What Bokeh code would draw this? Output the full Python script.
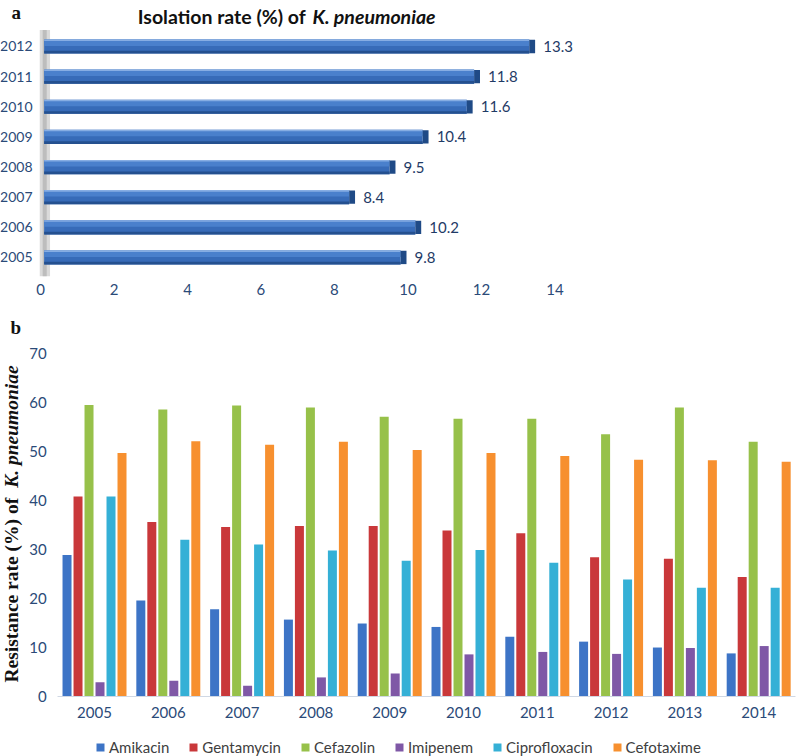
import math
from bokeh.plotting import figure
from bokeh.models import Range1d, FixedTicker, Label, Legend, LegendItem, ColumnDataSource
from bokeh.layouts import column
from bokeh.transform import dodge
from bokeh.core.properties import value
from bokeh.embed import file_html
from bokeh.resources import INLINE

# ---------------- data ----------------
iso_years = ["2005", "2006", "2007", "2008", "2009", "2010", "2011", "2012"]
iso_rate = [9.8, 10.2, 8.4, 9.5, 10.4, 11.6, 11.8, 13.3]
iso_ticks = [0, 2, 4, 6, 8, 10, 12, 14]

res_years = ["2005", "2006", "2007", "2008", "2009", "2010", "2011", "2012", "2013", "2014"]
drugs = ["Amikacin", "Gentamycin", "Cefazolin", "Imipenem", "Ciprofloxacin", "Cefotaxime"]
amikacin = [28.9, 19.6, 17.8, 15.7, 14.9, 14.2, 12.2, 11.2, 10.0, 8.8]
gentamycin = [40.8, 35.6, 34.6, 34.8, 34.8, 33.9, 33.3, 28.4, 28.1, 24.4]
cefazolin = [59.5, 58.6, 59.4, 59.0, 57.1, 56.7, 56.7, 53.5, 59.0, 52.0]
imipenem = [2.9, 3.2, 2.2, 3.9, 4.7, 8.6, 9.1, 8.7, 9.9, 10.3]
ciprofloxacin = [40.8, 32.0, 31.0, 29.8, 27.7, 29.9, 27.3, 23.9, 22.2, 22.2]
cefotaxime = [49.7, 52.1, 51.4, 52.0, 50.3, 49.7, 49.1, 48.3, 48.2, 47.9]
res_ticks = [0, 10, 20, 30, 40, 50, 60, 70]

drug_colors = ["#3D74C6", "#C9383A", "#97C14A", "#7F58A6", "#35B0D6", "#F7902F"]

TICK_COLOR = "#2B4A78"
FONT = "Lato"
W = 797

# ---------------- panel a ----------------
ya = list(range(len(iso_years)))
src_a = ColumnDataSource(dict(y=ya, v=iso_rate, lab=[f"{v:.1f}" for v in iso_rate]))

p1 = figure(width=W, height=300, x_range=Range1d(-1.088, 20.6), y_range=Range1d(-1.427, 8.526),
            output_backend="svg", toolbar_location=None, min_border=0)
p1.outline_line_color = None
p1.grid.visible = False

# left 3-D wall
p1.quad(left=-0.02, right=0.26, bottom=-0.62, top=7.55, fill_color="#DADADA", line_color=None)
p1.quad(left=0.06, right=0.17, bottom=-0.62, top=7.55, fill_color="#B0B0B0", line_color=None, alpha=0.7)

# bars with simple 3-D shading
p1.hbar(y="y", right="v", left=0.1, height=0.47, source=src_a, fill_color="#376BB8", line_color=None)
p1.hbar(y=dodge("y", 0.12, range=p1.y_range), right="v", left=0.1, height=0.2, source=src_a,
        fill_color="#4A80CC", line_color=None)
p1.hbar(y=dodge("y", 0.21, range=p1.y_range), right="v", left=0.1, height=0.05, source=src_a,
        fill_color="#86ADE3", line_color=None)
p1.hbar(y=dodge("y", -0.19, range=p1.y_range), right="v", left=0.1, height=0.09, source=src_a,
        fill_color="#24508F", line_color=None)
p1.hbar(y="y", left="v", right=dodge("v", 0.16, range=p1.x_range), height=0.44, source=src_a,
        fill_color="#1F4A86", line_color=None)
p1.text(x="v", y="y", text="lab", source=src_a, x_offset=14, text_baseline="middle",
        text_font=value(FONT), text_font_size="15px", text_color="#1F3B66")

p1.xaxis.ticker = FixedTicker(ticks=iso_ticks)
p1.xaxis.fixed_location = -0.6
p1.yaxis.ticker = FixedTicker(ticks=ya)
p1.yaxis.fixed_location = 0
p1.yaxis.major_label_overrides = {i: y for i, y in enumerate(iso_years)}
for ax in (p1.xaxis[0], p1.yaxis[0]):
    ax.axis_line_color = None
    ax.major_tick_line_color = None
    ax.minor_tick_line_color = None
    ax.major_label_text_font = FONT
    ax.major_label_text_color = TICK_COLOR
p1.xaxis.major_label_text_font_size = "15px"
p1.yaxis.major_label_text_font_size = "14px"
p1.xaxis.major_label_standoff = 2
p1.yaxis.major_label_standoff = 2

p1.add_layout(Label(x=-0.79, y=8.13, text="a", text_font="Liberation Serif", text_font_style="bold",
                    text_font_size="19px", text_baseline="middle", text_color="#111111"))
p1.add_layout(Label(x=7.22, y=7.98, text="Isolation rate (%) of", text_align="right",
                    text_font=FONT, text_font_style="bold", text_font_size="19.5px",
                    text_baseline="middle", text_color="#111111"))
p1.add_layout(Label(x=7.40, y=7.98, text="K. pneumoniae", text_align="left",
                    text_font=FONT, text_font_style="bold italic", text_font_size="19.5px",
                    text_baseline="middle", text_color="#111111"))

# ---------------- panel b ----------------
xb = list(range(len(res_years)))
src_b = ColumnDataSource(dict(x=xb, Amikacin=amikacin, Gentamycin=gentamycin, Cefazolin=cefazolin,
                              Imipenem=imipenem, Ciprofloxacin=ciprofloxacin, Cefotaxime=cefotaxime))

p2 = figure(width=W, height=456, x_range=Range1d(-1.274, 9.526), y_range=Range1d(-12.24, 80.82),
            output_backend="svg", toolbar_location=None, min_border=0)
p2.outline_line_color = None
p2.grid.visible = False

pitch = 0.149
renderers = []
for j, (d, c) in enumerate(zip(drugs, drug_colors)):
    r = p2.vbar(x=dodge("x", (j - 2.5) * pitch, range=p2.x_range), top=d, width=0.122,
                source=src_b, fill_color=c, line_color=None)
    renderers.append(r)

p2.xaxis.ticker = FixedTicker(ticks=xb)
p2.xaxis.major_label_overrides = {i: y for i, y in enumerate(res_years)}
p2.xaxis.fixed_location = 0
p2.xaxis.bounds = (-0.5, 9.5)
p2.yaxis.ticker = FixedTicker(ticks=res_ticks)
p2.yaxis.fixed_location = -0.5
p2.yaxis.bounds = (0, 70)
p2.xaxis.axis_line_color = "#D0D8E4"
p2.yaxis.axis_line_color = None
for ax in (p2.xaxis[0], p2.yaxis[0]):
    ax.major_tick_line_color = None
    ax.minor_tick_line_color = None
    ax.major_label_text_font = FONT
    ax.major_label_text_font_size = "15px"
    ax.major_label_text_color = TICK_COLOR
p2.xaxis.major_label_standoff = 4
p2.yaxis.major_label_standoff = 5

p2.add_layout(Label(x=-1.138, y=75.3, text="b", text_font="Liberation Serif", text_font_style="bold",
                    text_font_size="19px", text_baseline="middle", text_color="#111111"))
p2.add_layout(Label(x=-1.13, y=2.86, text="Resistance rate (%) of", angle=math.pi / 2,
                    text_font="Liberation Serif", text_font_style="bold", text_font_size="19.5px",
                    text_baseline="middle", text_align="left", text_color="#111111"))
p2.add_layout(Label(x=-1.13, y=42.6, text="K. pneumoniae", angle=math.pi / 2,
                    text_font="Liberation Serif", text_font_style="bold italic", text_font_size="19.5px",
                    text_baseline="middle", text_align="left", text_color="#111111"))

legend = Legend(items=[LegendItem(label=d, renderers=[r]) for d, r in zip(drugs, renderers)],
                orientation="horizontal", location=(95, 0), padding=0, margin=0, spacing=19,
                glyph_width=10, glyph_height=10, label_standoff=4,
                label_text_font=FONT, label_text_font_size="15px", label_text_color="#404040",
                border_line_color=None, background_fill_alpha=0)
p2.add_layout(legend, "center")

layout = column(p1, p2, spacing=0)
open("out.html", "w").write(file_html(layout, INLINE))
